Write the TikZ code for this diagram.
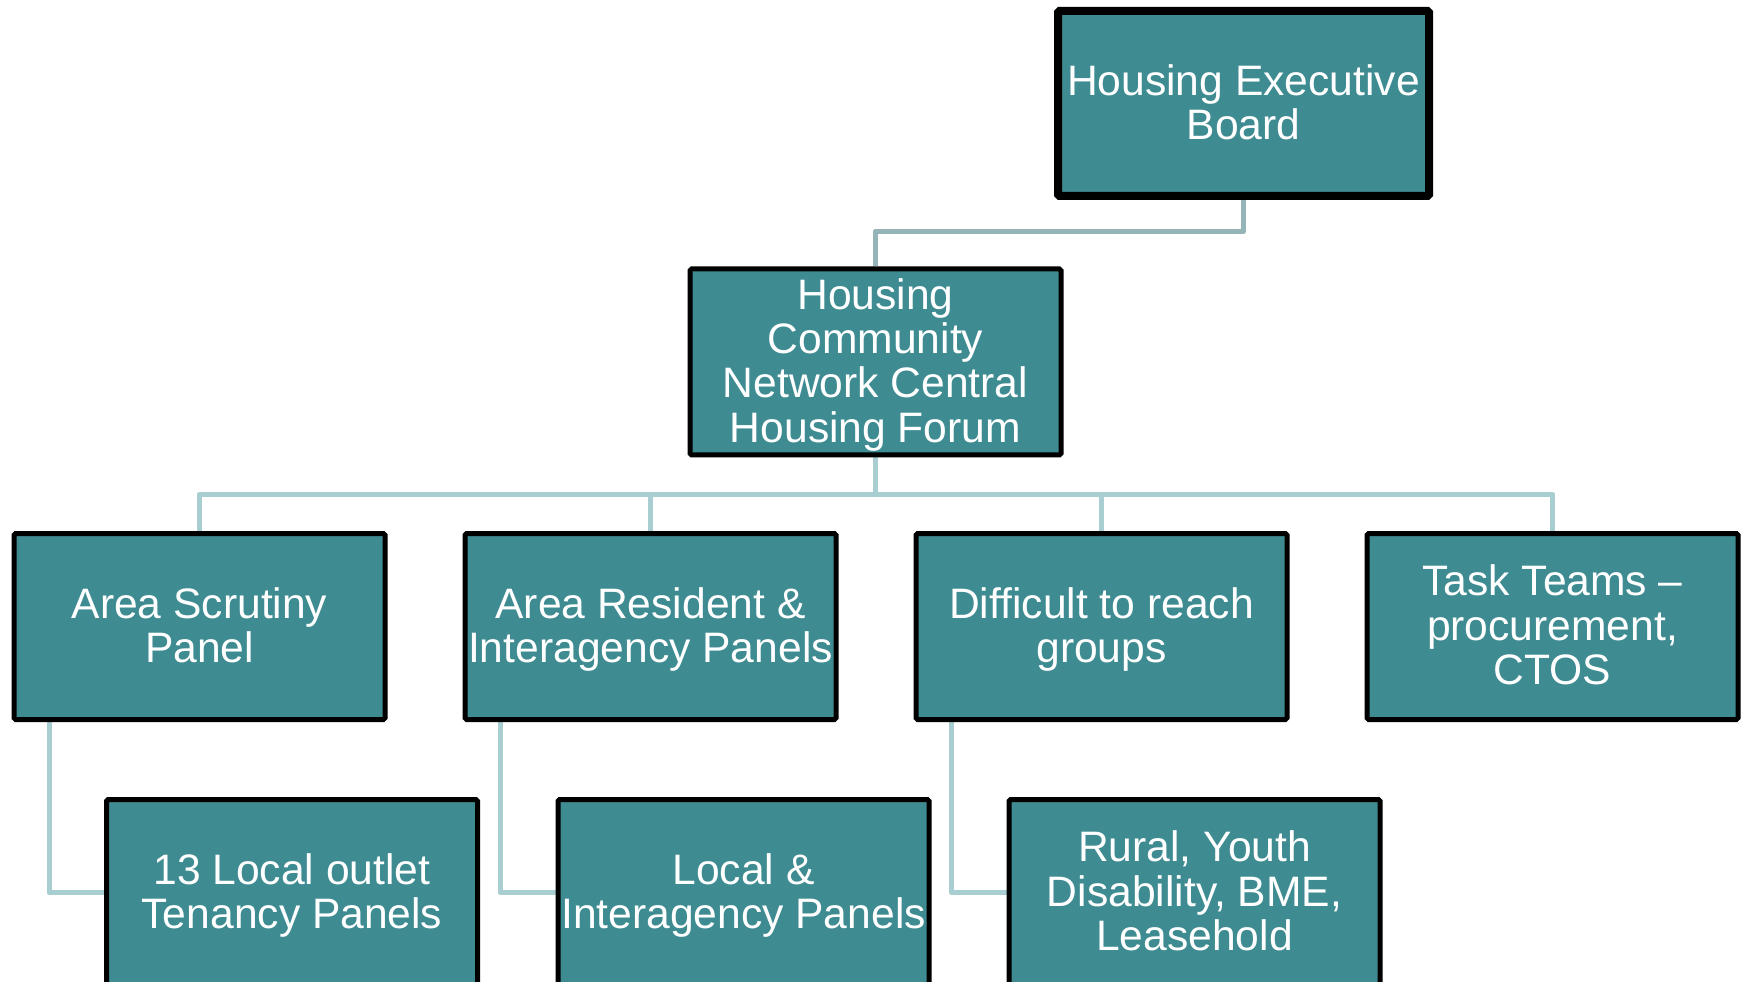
\documentclass[tikz,border=0pt]{standalone}
\usepackage{fontspec}
\setmainfont{Liberation Sans}
\usetikzlibrary{calc,backgrounds}

\definecolor{boxteal}{RGB}{62,140,146}
\definecolor{toplink}{RGB}{148,180,184}
\definecolor{buslink}{RGB}{169,206,209}

\begin{document}
\begin{tikzpicture}[x=0.5pt,y=0.5pt,
            box/.style={draw=black,fill=boxteal,line width=2.5pt,minimum width=185.5pt,minimum height=93pt,
                        inner sep=0pt,align=center,text=white,font=\fontsize{21.3}{22.15}\selectfont,rounded corners=0.8pt,
                        text depth=1.7pt},
            link/.style={draw=buslink,line width=2.5pt,line join=round}]

                        \useasboundingbox (0,0) rectangle (1744,981);
                        \clip (0,0) rectangle (1744,981);

                        \node[box,line width=4pt,minimum height=92.5pt] (heb) at (1243.5,877.5) {Housing Executive\\Board};

                        \node[box] (hcn) at (875.5,619) {Housing\\Community\\Network Central\\Housing Forum};

                        \node[box] (asp) at (199.5,354.5) {Area Scrutiny\\Panel};
                        \node[box] (arp) at (650.5,354.5) {Area Resident \&\\Interagency Panels};
                        \node[box] (dtr) at (1101.5,354.5) {Difficult to reach\\groups};
                        \node[box] (ttm) at (1552.5,354.5) {Task Teams --\\procurement,\\CTOS};

                        \node[box] (lot) at (292,88.5) {13 Local outlet\\Tenancy Panels};
                        \node[box] (lip) at (743.5,88.5) {Local \&\\Interagency Panels};
                        \node[box] (ryd) at (1194.5,88.5) {Rural, Youth\\Disability, BME,\\Leasehold};

                        \begin{pgfonlayer}{background}
                        \draw[link,draw=toplink] (heb.south) |- ($(heb.south)!0.47!(hcn.north)$) -| (hcn.north);
                        \foreach \n in {asp,arp,dtr,ttm}
                            \draw[link] (hcn.south) |- ($(hcn.south)!0.5!(\n.north)$) -| (\n.north);
                        \foreach \p/\c in {asp/lot,arp/lip,dtr/ryd}
                            \draw[link] ($(\p.south west)!0.1!(\p.south east)$) |- (\c.west);
                        \end{pgfonlayer}
                    \end{tikzpicture}
\end{document}
